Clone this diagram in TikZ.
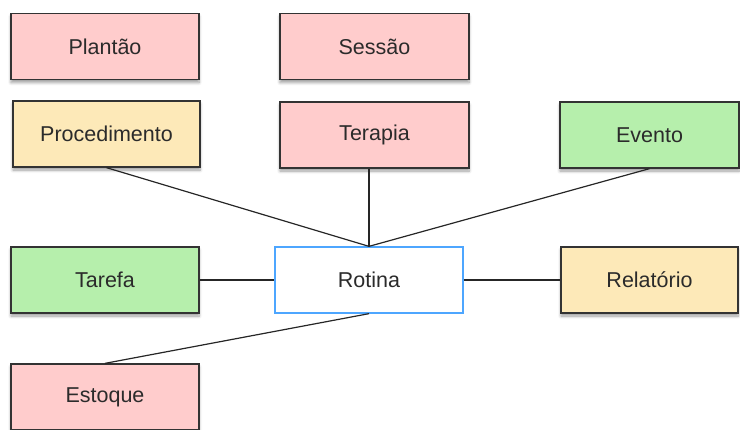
\documentclass[tikz,border=0pt]{standalone}
\usepackage{fontspec}
\setmainfont{Liberation Sans}
\usetikzlibrary{shadows.blur}
\definecolor{pinkf}{HTML}{FFCCCC}
\definecolor{yelf}{HTML}{FDE9B8}
\definecolor{grnf}{HTML}{B6EFAC}
\definecolor{bluel}{HTML}{4DA6FF}
\definecolor{edge}{HTML}{333333}
\definecolor{txt}{HTML}{2B2B2B}
\tikzset{
  box/.style={draw=edge, line width=1.3pt, minimum width=188pt, minimum height=66pt,
    inner sep=0pt, text=txt, font=\fontsize{21.5}{25}\selectfont,
    blur shadow={shadow xshift=0pt, shadow yshift=-3pt, shadow blur steps=6, shadow blur radius=3pt, shadow opacity=40}},
  pinkbox/.style={box, fill=pinkf},
  yelbox/.style={box, fill=yelf},
  grnbox/.style={box, fill=grnf},
  mainbox/.style={draw=bluel, line width=1.3pt, fill=white, minimum width=188pt, minimum height=66pt,
    inner sep=0pt, text=txt, font=\fontsize{21.5}{25}\selectfont},
  conn/.style={draw=black!85, line width=1.2pt}
}
\begin{document}
\begin{tikzpicture}[x=1pt,y=-1pt]
\useasboundingbox (0,0) rectangle (740,429);
\node[pinkbox] (plantao) at (105,46.5) {Plantão};
\node[pinkbox, minimum width=189pt] (sessao) at (374.5,46.5) {Sessão};
\node[yelbox, minimum width=187pt] (proc) at (106.5,134) {Procedimento};
\node[pinkbox, minimum width=189pt] (terapia) at (374.5,135) {Terapia};
\node[grnbox, minimum width=179pt] (evento) at (649.5,135) {Evento};
\node[grnbox] (tarefa) at (105,280) {Tarefa};
\node[mainbox] (rotina) at (369,280) {Rotina};
\node[yelbox, minimum width=177pt] (relatorio) at (649.5,280) {Relatório};
\node[pinkbox] (estoque) at (105,397) {Estoque};
\draw[conn] (proc.south) -- (rotina.north);
\draw[conn] (rotina.north) -- (rotina.north |- terapia.south);
\draw[conn] (evento.south) -- (rotina.north);
\draw[conn] (tarefa.east) -- (rotina.west);
\draw[conn] (rotina.east) -- (relatorio.west);
\draw[conn] (rotina.south) -- (estoque.north);
\end{tikzpicture}
\end{document}
